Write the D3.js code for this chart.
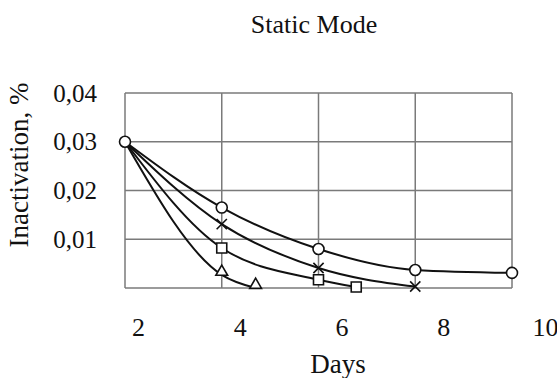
<!DOCTYPE html>
<html>
<head>
<meta charset="utf-8">
<script src="https://cdn.jsdelivr.net/npm/d3@7"></script>
<style>
  body { margin: 0; background: #fff; }
  text { font-family: "Liberation Serif", "Times New Roman", serif; fill: #111; }
</style>
</head>
<body>
<div id="chart"></div>
<script>
// values
const days = [2, 4, 6, 8, 10];
const xTicks = [2, 4, 6, 8, 10];
const yTicks = [0.01, 0.02, 0.03, 0.04];
const circleSeries = [[2, 0.03], [4, 0.0165], [6, 0.008], [8, 0.0037], [10, 0.0031]];
const crossSeries = [[2, 0.03], [4, 0.0131], [6, 0.0041], [8, 0.0003]];
const squareSeries = [[2, 0.03], [4, 0.0082], [6, 0.0017], [6.78, 0.0002]];
const triangleSeries = [[2, 0.03], [4, 0.0027], [4.7, 0.0]];

const svgWidth = 557, svgHeight = 378;
const margin = {top: 93, right: 45, bottom: 90, left: 125};
const width = svgWidth - margin.left - margin.right,
      height = svgHeight - margin.top - margin.bottom;

const svg = d3.select("#chart").append("svg")
  .attr("width", svgWidth)
  .attr("height", svgHeight);

const g = svg.append("g")
  .attr("transform", "translate(" + margin.left + "," + margin.top + ")");

const x = d3.scaleLinear().domain([2, 10]).range([0, width]);
const y = d3.scaleLinear().domain([0, 0.04]).range([height, 0]);
// tick labels sit a bit right of the gridlines in the original
const xLab = d3.scaleLinear().domain([2, 10]).range([13, 420]);

// grid
g.append("g").selectAll("line.v")
  .data(days)
  .enter().append("line")
    .attr("x1", d => x(d)).attr("x2", d => x(d))
    .attr("y1", 0).attr("y2", height)
    .attr("stroke", "#7a7a7a").attr("stroke-width", 1.5);

g.append("g").selectAll("line.h")
  .data([0].concat(yTicks))
  .enter().append("line")
    .attr("x1", 0).attr("x2", width)
    .attr("y1", d => y(d)).attr("y2", d => y(d))
    .attr("stroke", "#7a7a7a").attr("stroke-width", 1.5);

// axes (labels only)
const xAxis = g.append("g")
  .attr("transform", "translate(0," + (height + 34) + ")")
  .call(d3.axisBottom(xLab).tickValues(xTicks).tickSize(0).tickFormat(d3.format("d")));
xAxis.select(".domain").remove();
xAxis.attr("font-size", 26);
xAxis.selectAll("text").attr("dy", 0).attr("y", 14);

const yAxis = g.append("g")
  .attr("transform", "translate(-25,0)")
  .call(d3.axisLeft(y).tickValues(yTicks).tickSize(0)
    .tickFormat(d => d3.format(".2f")(d).replace(".", ",")));
yAxis.select(".domain").remove();
yAxis.attr("font-size", 25);

// curves
const line = d3.line()
  .x(d => x(d[0]))
  .y(d => y(d[1]))
  .curve(d3.curveMonotoneX);

const allSeries = [
  {data: circleSeries, mark: "circle"},
  {data: crossSeries, mark: "cross"},
  {data: squareSeries, mark: "square"},
  {data: triangleSeries, mark: "triangle"}
];

g.selectAll(".curve")
  .data(allSeries)
  .enter().append("path")
    .attr("class", "curve")
    .attr("d", d => line(d.data))
    .attr("fill", "none")
    .attr("stroke", "#111")
    .attr("stroke-width", 2);

const symbols = {
  circle: d3.symbol().type(d3.symbolCircle).size(95),
  square: d3.symbol().type(d3.symbolSquare).size(100),
  triangle: d3.symbol().type(d3.symbolTriangle).size(60),
  cross: d3.symbol().type(d3.symbolX).size(70)
};

allSeries.forEach(function(s) {
  const pts = s.mark === "circle" ? s.data : s.data.slice(1);
  g.selectAll(".m-" + s.mark)
    .data(pts)
    .enter().append("path")
      .attr("class", "m-" + s.mark)
      .attr("transform", d => "translate(" + x(d[0]) + "," + (y(d[1]) - (s.mark === "triangle" ? 3 : 0)) + ")")
      .attr("d", symbols[s.mark]())
      .attr("fill", s.mark === "cross" ? "none" : "#fff")
      .attr("stroke", "#111")
      .attr("stroke-width", 1.6);
});

// title and axis titles
svg.append("text")
  .attr("x", 314).attr("y", 33)
  .attr("text-anchor", "middle")
  .attr("font-size", 26)
  .text("Static Mode");

svg.append("text")
  .attr("x", 338).attr("y", 373)
  .attr("text-anchor", "middle")
  .attr("font-size", 27)
  .text("Days");

svg.append("text")
  .attr("transform", "translate(28,165) rotate(-90)")
  .attr("text-anchor", "middle")
  .attr("font-size", 27)
  .text("Inactivation, %");
</script>
</body>
</html>
